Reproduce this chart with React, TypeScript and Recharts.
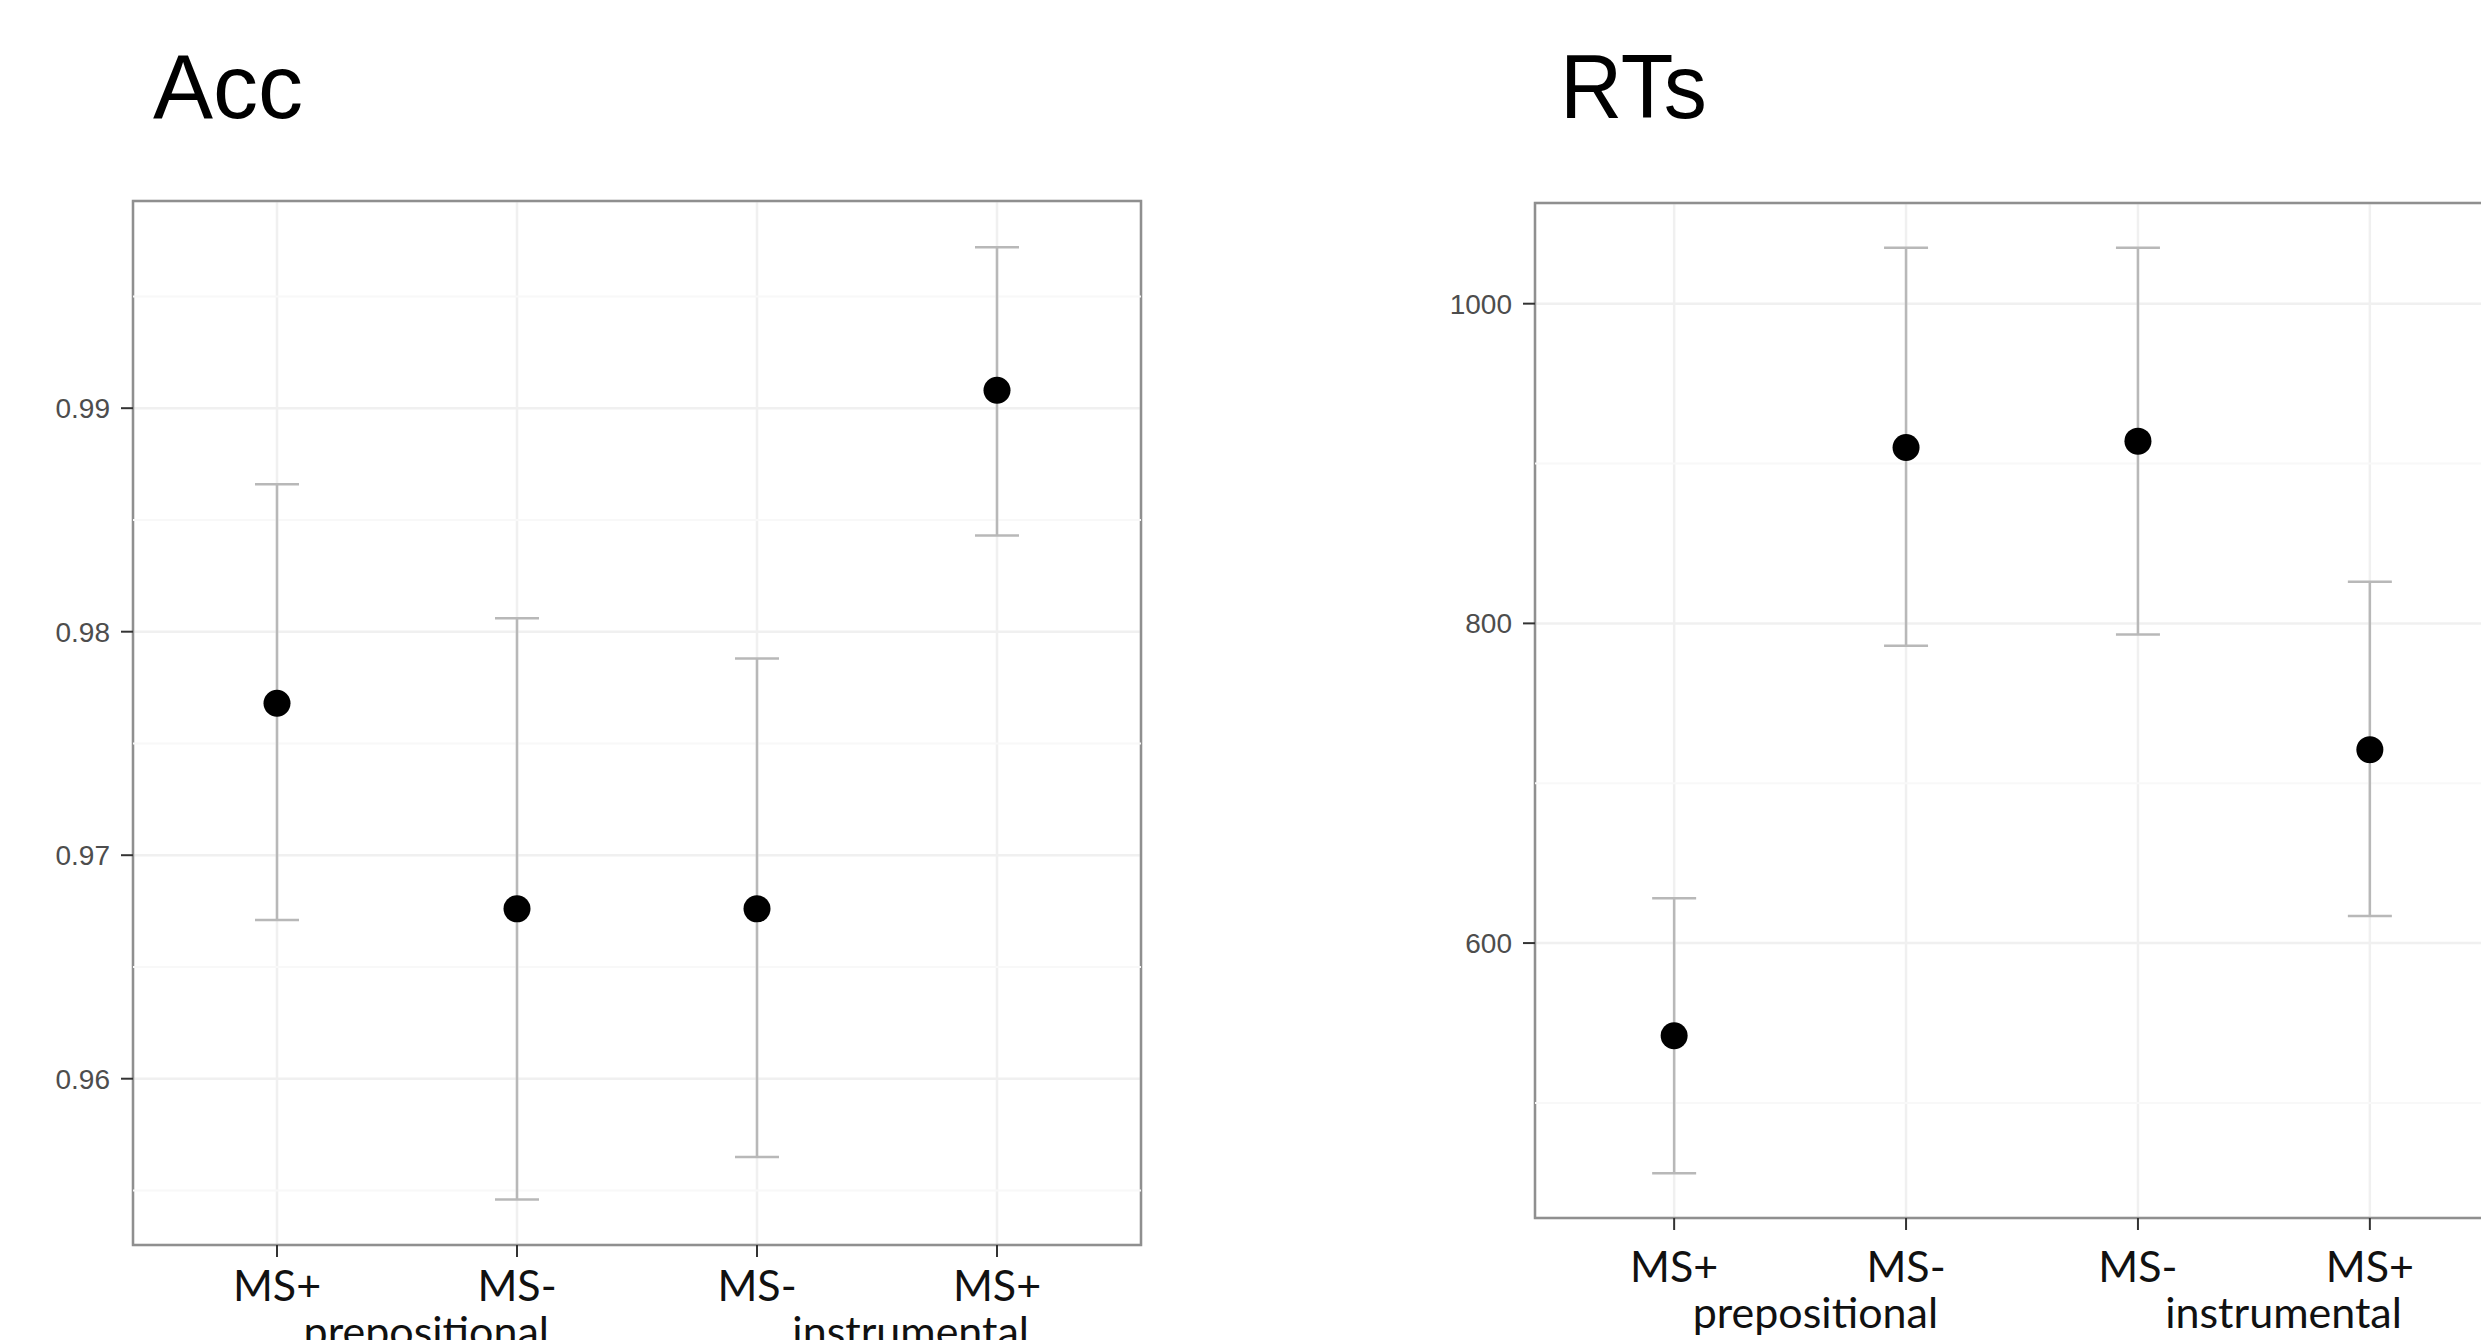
import React from 'react';
import {
  ScatterChart, Scatter, XAxis, YAxis, CartesianGrid, ErrorBar, ReferenceLine, ReferenceArea,
} from 'recharts';

// conditions on the x axis
const CATEGORIES = ['MS+', 'MS-', 'MS-', 'MS+'];
const GROUP_LABELS = ['', 'prepositional', '', 'instrumental'];

// accuracy: mean and CI bounds
const ACC_MEAN = [0.9768, 0.9676, 0.9676, 0.9908];
const ACC_LOW = [0.9671, 0.9546, 0.9565, 0.9843];
const ACC_HIGH = [0.9866, 0.9806, 0.9788, 0.9972];
const ACC_TICKS = [0.96, 0.97, 0.98, 0.99];
const ACC_MINOR = [0.955, 0.965, 0.975, 0.985, 0.995];

// reaction times: mean and CI bounds
const RT_MEAN = [542, 910, 914, 721];
const RT_LOW = [456, 786, 793, 617];
const RT_HIGH = [628, 1035, 1035, 826];
const RT_TICKS = [600, 800, 1000];
const RT_MINOR = [500, 700, 900];

const build = (mean: number[], low: number[], high: number[]) =>
  mean.map((m, i) => ({ x: i + 1, y: m, err: [m - low[i], high[i] - m] }));

const accData = build(ACC_MEAN, ACC_LOW, ACC_HIGH);
const rtData = build(RT_MEAN, RT_LOW, RT_HIGH);

const GRID = '#f0f0f0';
const MINOR = '#f8f8f8';
const BAR = '#b8b8b8';
const BORDER = '#8f8f8f';

const XTick = ({ x, y, payload, dy }: any) => {
  const i = payload.value - 1;
  return (
    <g>
      <text x={x} y={y + dy} textAnchor="middle" fontFamily="Lato, 'Open Sans', sans-serif" fontSize={43} fill="#111">
        {CATEGORIES[i]}
      </text>
      {GROUP_LABELS[i] && (
        <text x={x + 32} y={y + dy + 46} textAnchor="end" fontFamily="Lato, 'Open Sans', sans-serif" fontSize={43} fill="#111">
          {GROUP_LABELS[i]}
        </text>
      )}
    </g>
  );
};

const Dot = (props: any) => <circle cx={props.cx} cy={props.cy} r={13.5} fill="#000" />;

interface PanelProps {
  data: any[];
  domain: [number, number];
  ticks: number[];
  minor: number[];
  fmt: (v: number) => string;
  width: number;
  height: number;
  yAxisWidth: number;
  xAxisHeight: number;
  top: number;
  right: number;
  labelDy: number;
}

function Panel({ data, domain, ticks, minor, fmt, width, height, yAxisWidth, xAxisHeight, top, right, labelDy }: PanelProps) {
  return (
    <ScatterChart width={width} height={height} margin={{ top, right, bottom: 0, left: 0 }}>
      <CartesianGrid stroke={GRID} strokeWidth={2.5} />
      {minor.map(v => (
        <ReferenceLine key={v} y={v} stroke={MINOR} strokeWidth={2} />
      ))}
      <XAxis
        type="number"
        dataKey="x"
        domain={[0.4, 4.6]}
        ticks={[1, 2, 3, 4]}
        allowDataOverflow
        axisLine={false}
        tickSize={12}
        tickLine={{ stroke: '#333', strokeWidth: 2 }}
        height={xAxisHeight}
        tick={<XTick dy={labelDy} />}
        interval={0}
      />
      <YAxis
        type="number"
        dataKey="y"
        domain={domain}
        ticks={ticks}
        allowDataOverflow
        axisLine={false}
        tickSize={12}
        tickMargin={11}
        tickLine={{ stroke: '#333', strokeWidth: 2 }}
        width={yAxisWidth}
        tickFormatter={fmt}
        tick={{ fill: '#4d4d4d', fontSize: 28, fontFamily: "'Liberation Sans', Arial, sans-serif" }}
      />
      <Scatter data={data} dataKey="y" shape={<Dot />} isAnimationActive={false}>
        <ErrorBar dataKey="err" direction="y" width={22} stroke={BAR} strokeWidth={2.5} isAnimationActive={false} />
      </Scatter>
      <ReferenceArea x1={0.4} x2={4.6} y1={domain[0]} y2={domain[1]} fill="none" stroke={BORDER} strokeWidth={2.5} ifOverflow="visible" />
    </ScatterChart>
  );
}

export default function App() {
  return (
    <div style={{ position: 'absolute', top: 0, left: 0, width: 2481, height: 1340, overflow: 'hidden', background: '#fff' }}>
      <div style={{ position: 'absolute', left: 0, top: 0 }}>
        <Panel
          data={accData}
          domain={[0.95256, 0.99927]}
          ticks={ACC_TICKS}
          minor={ACC_MINOR}
          fmt={v => v.toFixed(2)}
          width={1240}
          height={1340}
          yAxisWidth={133}
          xAxisHeight={95}
          top={201}
          right={99}
          labelDy={42}
        />
      </div>
      <div style={{ position: 'absolute', left: 1240, top: 0 }}>
        <Panel
          data={rtData}
          domain={[428, 1063]}
          ticks={RT_TICKS}
          minor={RT_MINOR}
          fmt={v => String(v)}
          width={1300}
          height={1340}
          yAxisWidth={295}
          xAxisHeight={122}
          top={203}
          right={31}
          labelDy={50}
        />
      </div>
      <svg width={2481} height={1340} style={{ position: 'absolute', left: 0, top: 0, pointerEvents: 'none' }}>
        <text x={153} y={118} fontFamily="'Liberation Sans', Arial, sans-serif" fontSize={90} fill="#000">Acc</text>
        <text x={1560} y={118} fontFamily="'Liberation Sans', Arial, sans-serif" fontSize={90} fill="#000" textLength={147} lengthAdjust="spacingAndGlyphs">RTs</text>
      </svg>
    </div>
  );
}
